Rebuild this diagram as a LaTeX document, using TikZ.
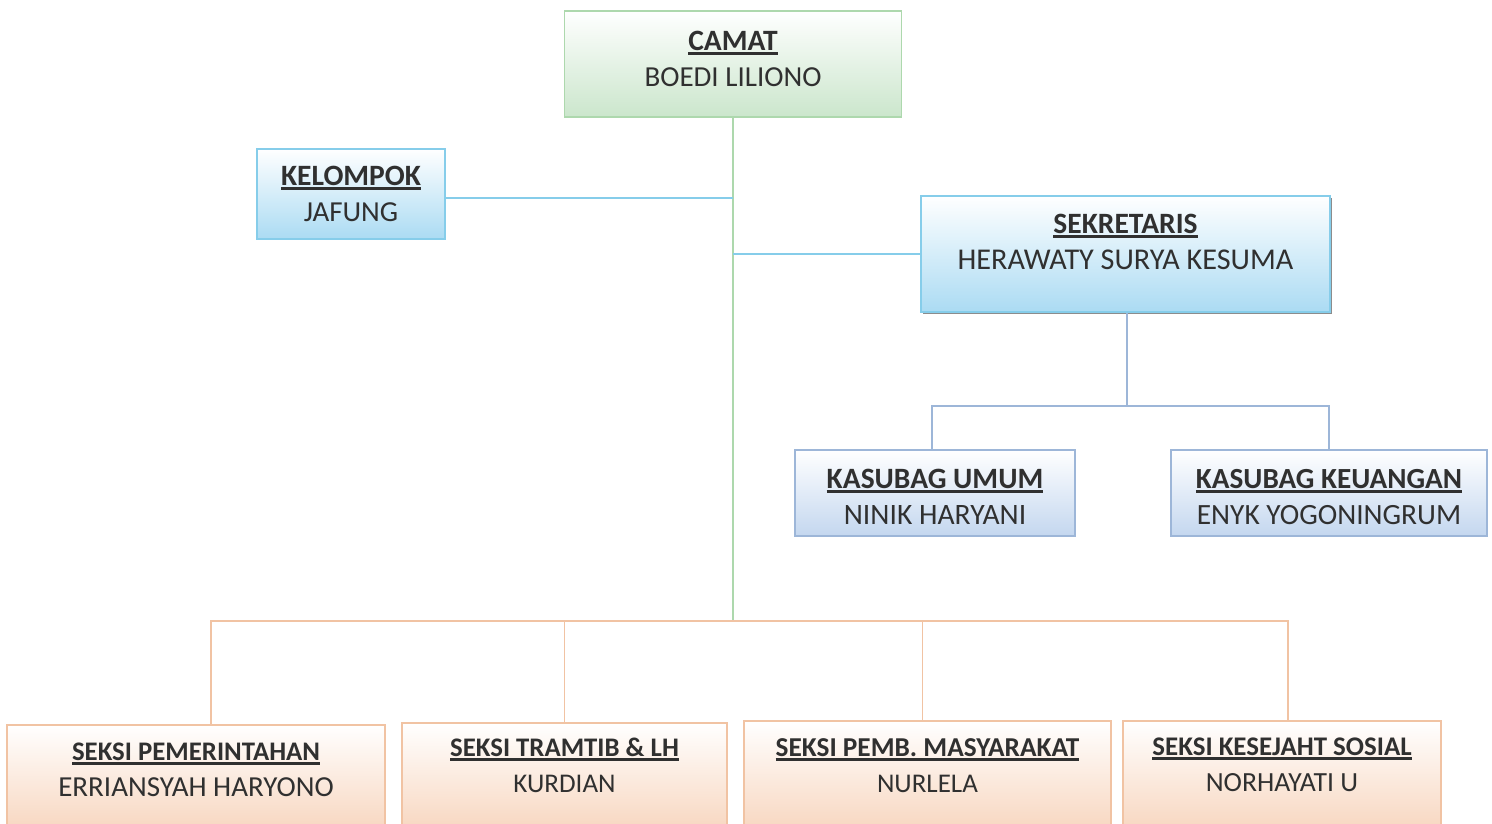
\documentclass[tikz,border=0pt]{standalone}
\usepackage{fontspec}
\setmainfont{Carlito}
\usetikzlibrary{positioning}
\usetikzlibrary{shadows}

\definecolor{teks}{HTML}{303030}
\definecolor{hijau}{HTML}{CBE6CC}
\definecolor{hijaugaris}{HTML}{ADD8AD}
\definecolor{biru}{HTML}{ABDBF3}
\definecolor{birugaris}{HTML}{86CDEA}
\definecolor{baja}{HTML}{C4D7EF}
\definecolor{bajagaris}{HTML}{9DB6D8}
\definecolor{persik}{HTML}{F8D8C2}
\definecolor{persikgaris}{HTML}{F1C3A3}

% judul jabatan, tebal dan bergaris bawah
\newcommand{\jabatan}[2][29.5]{{\fontsize{#1}{36}\selectfont\bfseries\setbox0\hbox{#2}\rlap{\rule[-4.5pt]{\wd0}{2.4pt}}\box0}}

\begin{document}
\begin{tikzpicture}[x=1pt, y=-1pt,
    kotak/.style={draw, line width=1.5pt, align=center, text=teks, inner sep=0pt, anchor=north,
        font=\fontsize{29}{36}\selectfont},
    ukuran/.style n args={3}{minimum width=#1, text height=#2, text depth=#3},
    kotakhijau/.style={kotak, draw=hijaugaris, top color=white, bottom color=hijau},
    kotakbiru/.style={kotak, draw=birugaris, top color=white, bottom color=biru},
    kotakbaja/.style={kotak, draw=bajagaris, top color=white, bottom color=baja},
    kotakpersik/.style={kotak, draw=persikgaris, top color=white, bottom color=persik}]

    \fill[white] (0,0) rectangle (1492,823);
    \useasboundingbox (0,0) rectangle (1492,823);

    % pimpinan
    \node[kotakhijau, ukuran={337pt}{75.5pt}{30.5pt}] (camat) at (733,10) {\jabatan{CAMAT}\\BOEDI LILIONO};
    \node[kotakbiru, ukuran={188pt}{72.5pt}{17.5pt}] (jafung) at (351,148) {\jabatan{KELOMPOK}\\JAFUNG};
    \node[kotakbiru, ukuran={409pt}{73.5pt}{42.5pt}, font=\fontsize{30.2}{36}\selectfont,
        drop shadow={shadow xshift=2pt, shadow yshift=-2.5pt, fill=gray!90, opacity=1}] (sekretaris) at (1125.5,195) {\jabatan{SEKRETARIS}\\HERAWATY SURYA KESUMA};

    % kasubag
    \node[kotakbaja, ukuran={280pt}{74.5pt}{11.5pt}, font=\fontsize{29.6}{36}\selectfont] (umum) at (935,449) {\jabatan{KASUBAG UMUM}\\NINIK HARYANI};
    \node[kotakbaja, ukuran={316pt}{74.5pt}{11.5pt}, font=\fontsize{29.4}{36}\selectfont] (keuangan) at (1329,449) {\jabatan[29.2]{KASUBAG KEUANGAN}\\ENYK YOGONINGRUM};

    % seksi
    \node[kotakpersik, ukuran={378pt}{71.5pt}{30.5pt}] (pemerintahan) at (196,724) {\jabatan[26.8]{SEKSI PEMERINTAHAN}\\ERRIANSYAH HARYONO};
    \node[kotakpersik, ukuran={325pt}{69.5pt}{34.5pt}, font=\fontsize{27}{36}\selectfont] (tramtib) at (564.5,722) {\jabatan[26.8]{SEKSI TRAMTIB \& LH}\\KURDIAN};
    \node[kotakpersik, ukuran={367pt}{71.5pt}{34.5pt}, font=\fontsize{27}{36}\selectfont] (pmd) at (927.5,720) {\jabatan[27.3]{SEKSI PEMB. MASYARAKAT}\\NURLELA};
    \node[kotakpersik, ukuran={318pt}{70.5pt}{35.5pt}, font=\fontsize{27.7}{36}\selectfont] (kesos) at (1282,720) {\jabatan[26.9]{SEKSI KESEJAHT SOSIAL}\\NORHAYATI U};

    \coordinate (bus) at (733,621);
    \coordinate (cabang) at (1127,406);

    % garis
    \draw[hijaugaris, line width=1.5pt] (camat.south) -- (bus);
    \draw[birugaris, line width=1.5pt] ([yshift=-4pt]jafung.east) -- ([yshift=-4pt]jafung.east -| camat.south);
    \draw[birugaris, line width=1.5pt] (sekretaris.west) -- (sekretaris.west -| camat.south);
    \draw[bajagaris, line width=1.5pt] (sekretaris.south -| cabang) -- (cabang);
    \draw[bajagaris, line width=1.5pt] ([xshift=-3pt]umum.north) |- (cabang) -| (keuangan.north);
    \draw[persikgaris, line width=1.5pt] ([xshift=15pt]pemerintahan.north) |- (bus) -| ([xshift=6pt]kesos.north);
    \draw[persikgaris, line width=1.5pt] (tramtib.north) -- (tramtib.north |- bus);
    \draw[persikgaris, line width=1.5pt] ([xshift=-5pt]pmd.north) -- ([xshift=-5pt]pmd.north |- bus);
\end{tikzpicture}
\end{document}
